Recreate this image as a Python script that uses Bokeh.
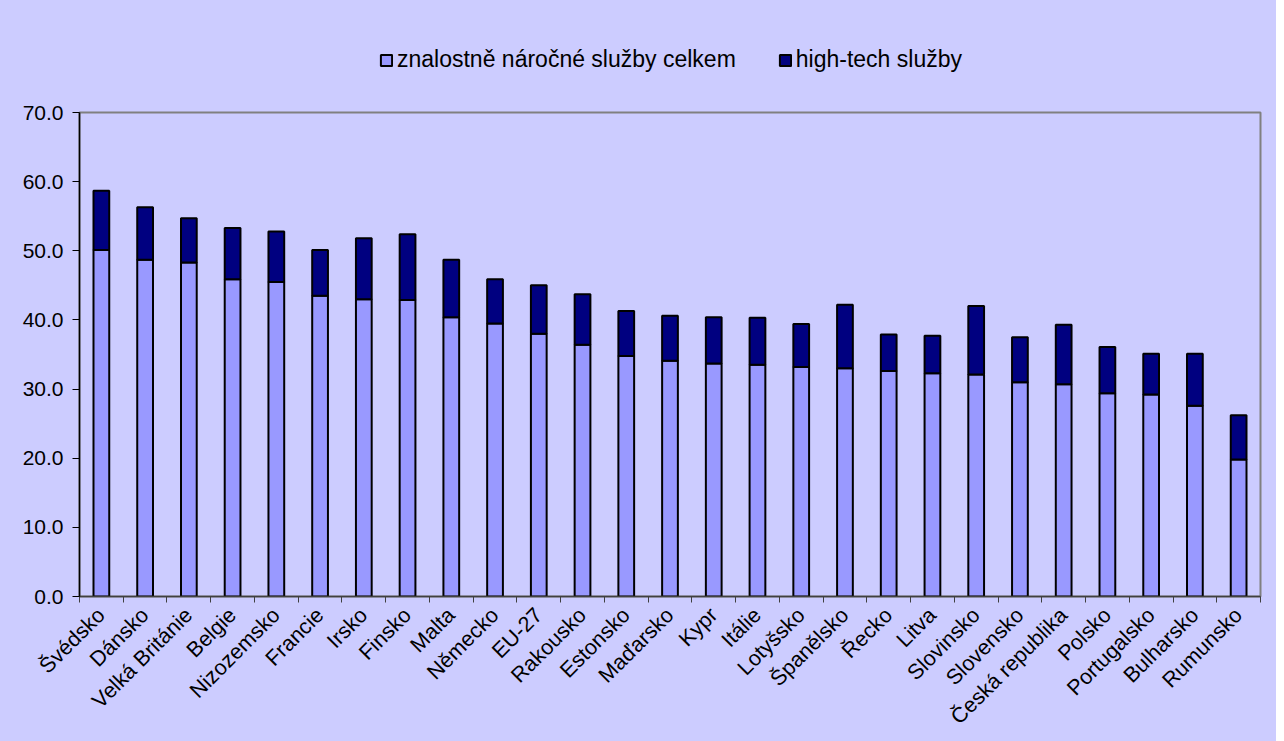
import math
from bokeh.plotting import figure
from bokeh.layouts import column
from bokeh.models import ColumnDataSource, FixedTicker, Range1d, Legend
from bokeh.embed import file_html
from bokeh.resources import INLINE

countries = ["Švédsko", "Dánsko", "Velká Británie", "Belgie", "Nizozemsko", "Francie",
             "Irsko", "Finsko", "Malta", "Německo", "EU-27", "Rakousko", "Estonsko",
             "Maďarsko", "Kypr", "Itálie", "Lotyšsko", "Španělsko", "Řecko", "Litva",
             "Slovinsko", "Slovensko", "Česká republika", "Polsko", "Portugalsko",
             "Bulharsko", "Rumunsko"]
znalostni = [50.1, 48.7, 48.3, 45.9, 45.5, 43.5, 43.0, 42.9, 40.4, 39.5, 38.0, 36.4, 34.8,
             34.1, 33.7, 33.5, 33.2, 33.0, 32.6, 32.3, 32.1, 31.0, 30.7, 29.4, 29.2, 27.6, 19.8]
hightech = [8.6, 7.6, 6.4, 7.4, 7.3, 6.6, 8.8, 9.5, 8.3, 6.4, 7.0, 7.3, 6.5,
            6.5, 6.7, 6.8, 6.2, 9.2, 5.3, 5.4, 9.9, 6.5, 8.6, 6.7, 5.9, 7.5, 6.4]
series_names = ["znalostně náročné služby celkem", "high-tech služby"]
colors = ["#9999FF", "#000080"]
y_ticks = [0, 10, 20, 30, 40, 50, 60, 70]

n = len(countries)
xs = [i + 0.5 for i in range(n)]
src = ColumnDataSource(dict(x=xs, znal=znalostni, ht=hightech))

BG = "#CCCCFF"
W = 1276
FONT = "Liberation Sans"

# ---- legend strip (top of the chart area) ----
lf = figure(width=W, height=80, output_backend="svg", toolbar_location=None,
            x_axis_location=None, y_axis_location=None,
            min_border_left=79, min_border_right=16, min_border_top=0, min_border_bottom=0,
            x_range=Range1d(-2, -1), y_range=Range1d(0, 1))
lf.background_fill_color = BG
lf.border_fill_color = BG
lf.outline_line_color = BG
lf.outline_line_width = 3
lf.xgrid.visible = False
lf.ygrid.visible = False
leg_r = lf.vbar_stack(["znal", "ht"], x="x", width=0.36, source=src,
                      fill_color=colors, line_color="black", line_width=2, visible=False)
legend = Legend(items=[(series_names[i], [leg_r[i]]) for i in range(2)],
                orientation="horizontal", location=(300, 7))
legend.background_fill_alpha = 0
legend.border_line_alpha = 0
legend.inactive_fill_alpha = 0
legend.padding = 0
legend.margin = 0
legend.spacing = 42
legend.glyph_width = 14
legend.glyph_height = 14
legend.label_standoff = 4
legend.label_height = 22
legend.label_text_font = FONT
legend.label_text_font_size = "23px"
legend.label_text_color = "black"
lf.add_layout(legend, "center")

# ---- main chart ----
p = figure(width=W, height=661, output_backend="svg", toolbar_location=None,
           x_range=Range1d(0, n), y_range=Range1d(0, 70),
           min_border_left=79, min_border_right=16, min_border_top=32, min_border_bottom=145)
p.background_fill_color = BG
p.border_fill_color = BG
p.outline_line_color = "#808080"
p.outline_line_width = 2
p.xgrid.visible = False
p.ygrid.visible = False

p.vbar_stack(["znal", "ht"], x="x", width=0.36, source=src,
             fill_color=colors, line_color="black", line_width=2)

# y axis
p.yaxis.ticker = FixedTicker(ticks=y_ticks)
p.yaxis.major_label_overrides = {t: f"{t:.1f}" for t in y_ticks}
p.yaxis.major_label_text_font = FONT
p.yaxis.major_label_text_font_size = "21px"
p.yaxis.major_label_text_color = "black"
p.yaxis.major_tick_in = 0
p.yaxis.major_tick_out = 7
p.yaxis.minor_tick_in = 0
p.yaxis.minor_tick_out = 0
p.yaxis.axis_line_color = "black"
p.yaxis.axis_line_width = 1.5
p.yaxis.major_tick_line_color = "black"
p.yaxis.major_label_standoff = 9

# x axis: labels at category centres, ticks between categories
p.xaxis.ticker = FixedTicker(ticks=xs, minor_ticks=list(range(n + 1)))
p.xaxis.major_label_overrides = {x: c for x, c in zip(xs, countries)}
p.xaxis.major_label_orientation = math.pi / 4
p.xaxis.major_label_text_font = FONT
p.xaxis.major_label_text_font_size = "21.5px"
p.xaxis.major_label_text_color = "black"
p.xaxis.major_tick_in = 0
p.xaxis.major_tick_out = 0
p.xaxis.minor_tick_in = 0
p.xaxis.minor_tick_out = 6
p.xaxis.minor_tick_line_color = "#404040"
p.xaxis.axis_line_color = "#404040"
p.xaxis.axis_line_width = 1.5
p.xaxis.major_label_standoff = 9

layout = column(lf, p, spacing=0, styles={"background-color": BG})
open("out.html", "w").write(file_html(layout, INLINE))
